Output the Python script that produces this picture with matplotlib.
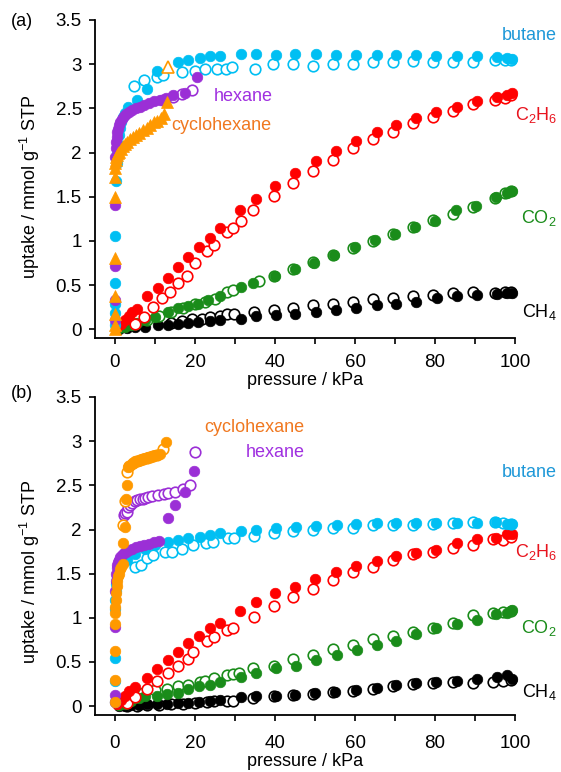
import matplotlib
matplotlib.use('Agg')
import matplotlib.pyplot as plt

plt.rcParams['font.family'] = ['Liberation Sans', 'DejaVu Sans']
plt.rcParams['mathtext.fontset'] = 'custom'
plt.rcParams['mathtext.rm'] = 'Liberation Sans'
plt.rcParams['mathtext.it'] = 'Liberation Sans:italic'

# ---------------- panel (a) data: pressure (kPa), uptake (mmol/g) ----------------
ch4_a_ads_p = [1, 3, 5, 7.5, 10.8, 13.3, 15.8, 18.3, 20.8, 23.75, 26.25, 31.4, 35.2, 40.2, 45,
               50.2, 55.2, 60.2, 65.4, 70.3, 75.3, 80.4, 85.4, 90.4, 95.4, 98, 99.3]
ch4_a_ads_u = [0.0, 0.01, 0.02, 0.03, 0.045, 0.05, 0.055, 0.065, 0.08, 0.09, 0.1, 0.12, 0.15, 0.16, 0.17,
               0.2, 0.22, 0.24, 0.27, 0.29, 0.31, 0.35, 0.37, 0.385, 0.4, 0.41, 0.41]
ch4_a_des_p = [14, 16.7, 19.2, 21.7, 23.75, 26.25, 28, 29.7, 34.75, 39.75, 44.6, 49.6, 54.6, 59.6,
               64.6, 69.6, 74.6, 79.4, 84.4, 89.6, 95, 97.4, 99]
ch4_a_des_u = [0.07, 0.09, 0.11, 0.12, 0.14, 0.15, 0.17, 0.17, 0.2, 0.22, 0.245, 0.27, 0.29, 0.31,
               0.34, 0.355, 0.38, 0.39, 0.41, 0.42, 0.41, 0.42, 0.42]

co2_a_ads_p = [1, 2.5, 4, 5.5, 7.5, 10, 13.3, 15.8, 18.3, 20.8, 23.3, 26.25, 31.4, 34.6, 40, 45, 49.8,
               54.8, 60, 65, 70, 75, 80, 85.3, 90.3, 95.3, 98, 99.3]
co2_a_ads_u = [0.01, 0.03, 0.05, 0.07, 0.1, 0.14, 0.2, 0.24, 0.26, 0.29, 0.33, 0.37, 0.48, 0.52, 0.6, 0.68, 0.75,
               0.84, 0.93, 1.01, 1.08, 1.16, 1.23, 1.35, 1.4, 1.5, 1.54, 1.56]
co2_a_des_p = [5, 8, 11, 14, 17, 20, 22.5, 25, 28, 29.6, 36, 39.7, 44.6, 49.6, 54.6, 59.6, 64.6, 69.6,
               74.6, 79.4, 84.4, 89.6, 95, 97.4, 99]
co2_a_des_u = [0.06, 0.1, 0.15, 0.19, 0.24, 0.28, 0.31, 0.34, 0.42, 0.44, 0.54, 0.6, 0.68, 0.76, 0.84, 0.92,
               1.0, 1.08, 1.16, 1.24, 1.3, 1.38, 1.49, 1.54, 1.56]

c2h6_a_ads_p = [0.5, 1.5, 2.5, 3.5, 4.3, 5.4, 7.9, 10.8, 13.3, 15.8, 18.3, 21, 23.75, 26.25, 31.25, 35.25,
                40, 45, 50.2, 55.2, 60.2, 65.4, 70.25, 75.25, 80.25, 85.4, 90.4, 95.4, 98, 99.3]
c2h6_a_ads_u = [0.02, 0.06, 0.1, 0.15, 0.19, 0.23, 0.37, 0.47, 0.58, 0.7, 0.82, 0.93, 1.03, 1.14, 1.35, 1.47,
                1.62, 1.77, 1.9, 2.02, 2.13, 2.23, 2.31, 2.39, 2.46, 2.52, 2.58, 2.63, 2.65, 2.67]
c2h6_a_des_p = [5, 7.3, 9.6, 11.7, 13.8, 15.8, 17.9, 20, 22.9, 24.8, 28.1, 29.6, 31.4, 34.6, 39.7, 44.6,
                49.6, 54.6, 59.6, 64.6, 69.6, 74.6, 79.4, 84.4, 89.6, 95, 97.4, 99]
c2h6_a_des_u = [0.06, 0.14, 0.25, 0.35, 0.42, 0.52, 0.6, 0.75, 0.89, 0.95, 1.1, 1.15, 1.22, 1.35, 1.51, 1.66,
                1.79, 1.92, 2.05, 2.15, 2.23, 2.33, 2.4, 2.47, 2.55, 2.59, 2.62, 2.65]

butane_a_ads_p = [0, 0, 0, 0, 0, 0.2, 0.4, 0.6, 0.8, 1.0, 1.3, 1.6, 2.0, 2.5, 3.3, 5.4, 7.9, 10.6, 15.8,
                  18.3, 21.2, 23.8, 26.3, 31.5, 35.2, 40.2, 45, 50.2, 55.2, 60.2, 65.4, 70.3, 75.3, 80.3,
                  85.4, 90.4, 95.4, 98, 99.3]
butane_a_ads_u = [0.05, 0.18, 0.29, 0.52, 1.05, 1.68, 1.88, 2.0, 2.1, 2.2, 2.28, 2.35, 2.4, 2.45, 2.52, 2.59,
                  2.72, 2.92, 3.03, 3.05, 3.07, 3.09, 3.09, 3.11, 3.11, 3.1, 3.11, 3.11, 3.1, 3.1, 3.1,
                  3.1, 3.1, 3.09, 3.09, 3.09, 3.08, 3.07, 3.06]
butane_a_des_p = [4.75, 7.25, 10.4, 12.1, 16.7, 20, 22.5, 25.6, 27.7, 29.3, 35, 39.6, 44.6, 49.6, 54.6,
                  59.6, 64.6, 69.6, 74.6, 79.4, 84.4, 89.6, 95, 97.4, 99]
butane_a_des_u = [2.75, 2.82, 2.86, 2.88, 2.91, 2.92, 2.94, 2.95, 2.95, 2.97, 2.95, 3.0, 3.0, 2.98, 3.0,
                  3.0, 3.03, 3.03, 3.04, 3.03, 3.03, 3.02, 3.05, 3.05, 3.05]

hexane_a_ads_p = [0, 0, 0, 0, 0.1, 0.2, 0.3, 0.45, 0.6, 0.8, 1.0, 1.3, 1.7, 2.2, 2.8, 3.5, 4.3, 5.2, 6.2,
                  7.3, 8.5, 9.8, 11.2, 12.7, 14.6, 17.5, 20.4]
hexane_a_ads_u = [0.1, 0.33, 0.71, 1.41, 1.95, 2.05, 2.12, 2.18, 2.23, 2.27, 2.31, 2.34, 2.38, 2.41, 2.44,
                  2.46, 2.48, 2.5, 2.52, 2.54, 2.56, 2.58, 2.6, 2.62, 2.65, 2.67, 2.86]
hexane_a_des_p = [12, 14.5, 16.7, 19.2]
hexane_a_des_u = [2.6, 2.63, 2.66, 2.71]

cyclo_a_ads_p = [0, 0, 0, 0, 0, 0, 0, 0, 0.1, 0.2, 0.35, 0.5, 0.7, 1.0, 1.4, 1.9, 2.5, 3.1, 3.8, 4.5, 5.3,
                 6.1, 7.0, 7.9, 8.8, 9.7, 10.6, 11.5, 12.2, 12.9]
cyclo_a_ads_u = [0.0, 0.05, 0.17, 0.38, 0.81, 1.5, 1.72, 1.82, 1.88, 1.92, 1.95, 1.97, 1.99, 2.01, 2.04,
                 2.07, 2.1, 2.12, 2.15, 2.17, 2.2, 2.22, 2.25, 2.28, 2.31, 2.34, 2.36, 2.39, 2.44, 2.57]
cyclo_a_des_p = [13.3]
cyclo_a_des_u = [2.97]

# ---------------- panel (b) data ----------------
ch4_b_ads_p = [1, 2.5, 4, 6, 8, 10.5, 13, 15.8, 18.3, 21, 23.75, 26.25, 31.4, 35.2, 40.2, 45, 50, 55,
               60.2, 65.4, 70.25, 75.25, 80.25, 85.4, 90.4, 95.4, 98, 99.3]
ch4_b_ads_u = [0.0, 0.005, 0.01, 0.015, 0.02, 0.025, 0.03, 0.035, 0.04, 0.05, 0.06, 0.065, 0.1, 0.115,
               0.12, 0.125, 0.145, 0.16, 0.185, 0.21, 0.24, 0.26, 0.275, 0.28, 0.31, 0.33, 0.35, 0.31]
ch4_b_des_p = [3, 5.5, 8, 11, 14, 17, 20, 22.9, 24.75, 28.1, 29.6, 34.6, 39.75, 44.6, 49.6, 54.6, 59.6,
               64.6, 69.6, 74.4, 79.4, 84.4, 89.4, 94.6, 97, 99]
ch4_b_des_u = [0.0, 0.005, 0.01, 0.015, 0.02, 0.03, 0.04, 0.05, 0.06, 0.06, 0.06, 0.09, 0.115, 0.13, 0.14,
               0.16, 0.17, 0.2, 0.23, 0.25, 0.265, 0.27, 0.26, 0.27, 0.29, 0.3]

co2_b_ads_p = [1, 2.5, 4, 6, 7.5, 10.5, 12.9, 15.8, 18.3, 21, 23.75, 26.25, 31.4, 35.2, 40.2, 45.25, 50.25,
               55.4, 60.4, 65.4, 70.25, 75.25, 80.25, 85.4, 90.4, 95.25, 98, 99.3]
co2_b_ads_u = [0.01, 0.03, 0.06, 0.09, 0.11, 0.12, 0.14, 0.15, 0.19, 0.23, 0.24, 0.27, 0.33, 0.38, 0.43,
               0.46, 0.52, 0.58, 0.64, 0.69, 0.74, 0.82, 0.88, 0.93, 0.98, 1.04, 1.05, 1.09]
co2_b_des_p = [3, 5, 7.1, 10, 13, 15.8, 18.3, 21.25, 22.5, 24.75, 28.1, 29.6, 31, 34.6, 39.75, 44.6, 49.6,
               54.6, 59.6, 64.4, 69.6, 74.4, 79.4, 84.4, 89.4, 94.6, 97, 99]
co2_b_des_u = [0.06, 0.1, 0.15, 0.18, 0.2, 0.23, 0.24, 0.27, 0.29, 0.32, 0.35, 0.36, 0.38, 0.43, 0.46, 0.53,
               0.58, 0.65, 0.69, 0.76, 0.79, 0.84, 0.89, 0.94, 1.03, 1.06, 1.07, 1.08]

c2h6_b_ads_p = [0.5, 1.5, 2.5, 3.5, 5, 7.9, 10.6, 13.3, 15.8, 18.3, 21, 23.75, 26.25, 31.25, 35.25, 40, 45,
                50, 55.25, 60.25, 65.4, 70.25, 75.25, 80.25, 85.4, 90.4, 95.25, 98, 99.3]
c2h6_b_ads_u = [0.02, 0.07, 0.12, 0.17, 0.22, 0.32, 0.42, 0.52, 0.61, 0.71, 0.79, 0.88, 0.94, 1.08, 1.18,
                1.28, 1.35, 1.44, 1.52, 1.59, 1.64, 1.7, 1.73, 1.77, 1.85, 1.89, 1.9, 1.95, 1.95]
c2h6_b_des_p = [3, 5, 7.9, 10.6, 13.3, 15.8, 18.3, 19.6, 22.9, 24.75, 28.1, 29.6, 34.75, 39.75, 44.6, 49.6,
                54.4, 59.6, 64.6, 69.6, 74.4, 79.4, 84.4, 89.4, 94.6, 97, 99]
c2h6_b_des_u = [0.04, 0.1, 0.2, 0.29, 0.38, 0.46, 0.53, 0.61, 0.74, 0.78, 0.86, 0.88, 1.01, 1.13, 1.24,
                1.33, 1.43, 1.52, 1.58, 1.66, 1.72, 1.75, 1.79, 1.83, 1.89, 1.88, 1.91]

butane_b_ads_p = [0, 0, 0, 0, 0.1, 0.2, 0.3, 0.5, 0.7, 1.0, 1.5, 2.0, 3.0, 5.0, 7.5, 10, 13.3, 15.8, 18.3,
                  21.25, 23.75, 26.25, 31.4, 35.2, 40.2, 45.25, 50.25, 55.4, 60.2, 65.4, 70.3, 75.3, 80.3,
                  85.4, 90.4, 95.25, 98, 99.3]
butane_b_ads_u = [0.05, 0.28, 0.55, 1.1, 1.2, 1.3, 1.38, 1.45, 1.5, 1.55, 1.6, 1.63, 1.66, 1.72, 1.78, 1.82,
                  1.86, 1.88, 1.9, 1.92, 1.94, 1.96, 1.98, 2.0, 2.02, 2.03, 2.04, 2.05, 2.06, 2.07, 2.07,
                  2.07, 2.07, 2.07, 2.07, 2.09, 2.06, 2.06]
butane_b_des_p = [5, 6.5, 7.9, 9.6, 12.5, 14.2, 16.7, 19.4, 22.7, 24.6, 28.2, 29.8, 34.8, 39.7, 44.6, 49.6,
                  54.6, 59.6, 64.6, 69.6, 74.6, 79.4, 84.4, 89.6, 95, 97, 99]
butane_b_des_u = [1.57, 1.6, 1.68, 1.71, 1.75, 1.75, 1.78, 1.82, 1.85, 1.855, 1.9, 1.9, 1.93, 1.96, 1.98,
                  1.995, 2.02, 2.02, 2.05, 2.05, 2.05, 2.06, 2.07, 2.08, 2.08, 2.07, 2.06]

hexane_b_ads_p = [0, 0, 0, 0.1, 0.2, 0.3, 0.45, 0.6, 0.8, 1.0, 1.3, 1.7, 2.2, 2.8, 3.5, 4.3, 5.2, 6.2, 7.3,
                  8.5, 9.7, 11, 13.2, 15, 17.5, 19.8]
hexane_b_ads_u = [0.05, 0.13, 0.9, 1.3, 1.42, 1.5, 1.56, 1.6, 1.63, 1.66, 1.69, 1.71, 1.73, 1.75, 1.77, 1.78,
                  1.8, 1.81, 1.83, 1.84, 1.86, 1.87, 2.13, 2.28, 2.43, 2.66]
hexane_b_des_p = [2.3, 2.6, 2.9, 3.3, 3.75, 4.3, 5, 5.6, 6.25, 7, 7.5, 8.3, 9.2, 10.8, 12.2, 13.3, 15, 17.1,
                  18.75, 20]
hexane_b_des_u = [2.16, 2.19, 2.2, 2.25, 2.28, 2.3, 2.32, 2.33, 2.34, 2.35, 2.36, 2.37, 2.38, 2.39, 2.4, 2.41,
                  2.43, 2.46, 2.5, 2.88]

cyclo_b_ads_p = [0, 0, 0, 0, 0, 0.1, 0.2, 0.3, 0.45, 0.6, 0.8, 1.0, 1.3, 1.6, 2.0, 2.1, 2.5, 2.7, 2.9, 3.3,
                 4.2, 5.0, 5.8, 6.7, 7.5, 8.3, 9.2, 10, 11.25, 12.75]
cyclo_b_ads_u = [0.05, 0.3, 0.62, 0.93, 1.05, 1.12, 1.2, 1.28, 1.36, 1.42, 1.47, 1.5, 1.55, 1.58, 1.61, 1.85,
                 2.03, 2.34, 2.5, 2.71, 2.74, 2.77, 2.78, 2.8, 2.81, 2.82, 2.83, 2.84, 2.86, 2.99]
cyclo_b_des_p = [2.0, 2.6, 3.0, 3.6, 4.6, 5.4, 6.2, 7.1, 7.9, 8.8, 9.6, 10.6, 12.1]
cyclo_b_des_u = [2.05, 2.32, 2.65, 2.72, 2.75, 2.77, 2.79, 2.8, 2.81, 2.82, 2.83, 2.84, 2.91]

c_black = 'black'
c_green = '#1a8c1a'
c_red = '#ff0000'
c_cyan = '#00bff3'
c_purple = '#9b2fd6'
c_orange = '#ff9900'


def draw_pair(ax, ads_p, ads_u, des_p, des_u, color, marker='o', ms=7.6):
    # desorption = open markers, adsorption = filled markers on top
    ax.plot(des_p, des_u, linestyle='none', marker=marker, ms=ms, mfc='white', mec=color,
            mew=1.2, clip_on=False)
    ax.plot(ads_p, ads_u, linestyle='none', marker=marker, ms=ms, mfc=color, mec=color,
            mew=0.5, clip_on=False)


def style_axes(ax, tickpad):
    ax.set_xlim(-5, 100)
    ax.set_ylim(-0.1, 3.5)
    ax.spines['top'].set_visible(False)
    ax.spines['right'].set_visible(False)
    ax.spines['left'].set_linewidth(1.3)
    ax.spines['bottom'].set_linewidth(1.3)
    ax.set_xticks([0, 20, 40, 60, 80, 100])
    ax.set_xticks([10, 30, 50, 70, 90], minor=True)
    ax.set_yticks([0, 0.5, 1, 1.5, 2, 2.5, 3, 3.5])
    ax.set_yticklabels(['0', '0.5', '1', '1.5', '2', '2.5', '3', '3.5'])
    ax.tick_params(axis='both', which='major', direction='out', length=4.5, width=1.2,
                   labelsize=13.5)
    ax.tick_params(axis='x', which='major', pad=tickpad)
    ax.tick_params(axis='y', which='major', pad=5)
    ax.tick_params(axis='x', which='minor', direction='out', length=4.5, width=1.2)


fig = plt.figure(figsize=(5.61, 7.72), dpi=100)
W, H = 561.0, 772.0
ax_a = fig.add_axes([95 / W, 1 - 338 / H, 420 / W, 318 / H])
ax_b = fig.add_axes([95 / W, 1 - 715 / H, 420 / W, 318 / H])

# panel (a)
draw_pair(ax_a, ch4_a_ads_p, ch4_a_ads_u, ch4_a_des_p, ch4_a_des_u, c_black)
draw_pair(ax_a, co2_a_ads_p, co2_a_ads_u, co2_a_des_p, co2_a_des_u, c_green)
draw_pair(ax_a, c2h6_a_ads_p, c2h6_a_ads_u, c2h6_a_des_p, c2h6_a_des_u, c_red)
draw_pair(ax_a, butane_a_ads_p, butane_a_ads_u, butane_a_des_p, butane_a_des_u, c_cyan)
draw_pair(ax_a, hexane_a_ads_p, hexane_a_ads_u, hexane_a_des_p, hexane_a_des_u, c_purple)
draw_pair(ax_a, cyclo_a_ads_p, cyclo_a_ads_u, cyclo_a_des_p, cyclo_a_des_u, c_orange, marker='^', ms=8.5)
style_axes(ax_a, 7)

# panel (b)
draw_pair(ax_b, ch4_b_ads_p, ch4_b_ads_u, ch4_b_des_p, ch4_b_des_u, c_black)
draw_pair(ax_b, co2_b_ads_p, co2_b_ads_u, co2_b_des_p, co2_b_des_u, c_green)
draw_pair(ax_b, c2h6_b_ads_p, c2h6_b_ads_u, c2h6_b_des_p, c2h6_b_des_u, c_red)
draw_pair(ax_b, butane_b_ads_p, butane_b_ads_u, butane_b_des_p, butane_b_des_u, c_cyan)
draw_pair(ax_b, hexane_b_ads_p, hexane_b_ads_u, hexane_b_des_p, hexane_b_des_u, c_purple)
draw_pair(ax_b, cyclo_b_ads_p, cyclo_b_ads_u, cyclo_b_des_p, cyclo_b_des_u, c_orange)
style_axes(ax_b, 10)

fs = 13
for ax, ytop in [(ax_a, -0.108), (ax_b, -0.118)]:
    ax.set_xlabel('pressure / kPa', fontsize=fs)
    ax.xaxis.set_label_coords(0.5, ytop)

fig.text(30 / W, 1 - 187 / H, r'uptake / mmol g$^{-1}$ STP', rotation=90, ha='center', va='center', fontsize=fs)
fig.text(30 / W, 1 - 572 / H, r'uptake / mmol g$^{-1}$ STP', rotation=90, ha='center', va='center', fontsize=fs)

fig.text(22 / W, 1 - 22 / H, '(a)', ha='center', va='center', fontsize=fs)
fig.text(22 / W, 1 - 393 / H, '(b)', ha='center', va='center', fontsize=fs)

# gas labels, panel (a)
lab = dict(fontsize=fs, clip_on=False)
ax_a.text(110.5, 3.33, 'butane', color='#1e98d8', ha='right', va='center', **lab)
ax_a.text(110.5, 2.42, r'C$_2$H$_6$', color='#e8141e', ha='right', va='center', **lab)
ax_a.text(110.5, 1.26, r'CO$_2$', color=c_green, ha='right', va='center', **lab)
ax_a.text(110.5, 0.19, r'CH$_4$', color='black', ha='right', va='center', **lab)
ax_a.text(32, 2.63, 'hexane', color='#a030e0', ha='center', va='center', **lab)
ax_a.text(26.6, 2.31, 'cyclohexane', color='#f07820', ha='center', va='center', **lab)

# gas labels, panel (b)
ax_b.text(110.5, 2.64, 'butane', color='#1e98d8', ha='right', va='center', **lab)
ax_b.text(110.5, 1.75, r'C$_2$H$_6$', color='#e8141e', ha='right', va='center', **lab)
ax_b.text(110.5, 0.89, r'CO$_2$', color=c_green, ha='right', va='center', **lab)
ax_b.text(110.5, 0.16, r'CH$_4$', color='black', ha='right', va='center', **lab)
ax_b.text(40, 2.87, 'hexane', color='#a030e0', ha='center', va='center', **lab)
ax_b.text(34.75, 3.16, 'cyclohexane', color='#f07820', ha='center', va='center', **lab)

fig.savefig('out.png', dpi=100)
